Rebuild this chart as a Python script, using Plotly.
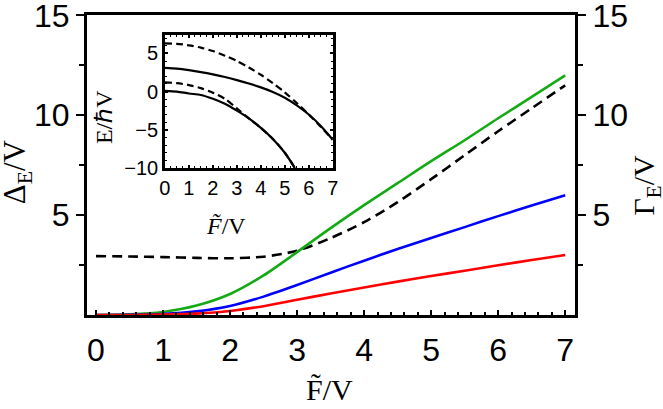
import plotly.graph_objects as go

# ---- main panel data ----
F = [0, 0.5, 1, 1.5, 2, 2.5, 3, 3.5, 4, 4.5, 5, 5.5, 6, 6.5, 7]
green = [0, 0.03, 0.15, 0.47, 1.05, 1.98, 3.15, 4.35, 5.5, 6.6, 7.7, 8.75, 9.85, 10.92, 12.0]
blue = [0, 0.01, 0.05, 0.18, 0.45, 0.92, 1.5, 2.12, 2.72, 3.3, 3.85, 4.4, 4.95, 5.48, 6.0]
red = [0, 0, 0.02, 0.07, 0.2, 0.44, 0.76, 1.08, 1.38, 1.67, 1.95, 2.22, 2.49, 2.75, 3.0]
gamma = [2.95, 2.93, 2.9, 2.86, 2.84, 2.92, 3.22, 3.85, 4.65, 5.65, 6.8, 8.0, 9.2, 10.35, 11.5]

# ---- inset data ----
Fi = [0, 0.5, 1, 1.5, 2, 2.5, 3, 3.5, 4, 4.5, 5, 5.5, 6, 6.5, 7]
up_dash = [6.3, 6.25, 6.05, 5.75, 5.3, 4.7, 4.0, 3.15, 2.2, 1.1, -0.1, -1.5, -3.0, -4.6, -6.3]
up_solid = [3.1, 3.0, 2.8, 2.55, 2.25, 1.9, 1.5, 1.05, 0.55, -0.05, -0.8, -1.8, -3.0, -4.5, -6.3]
Fl = [0, 0.5, 1, 1.5, 2, 2.5, 3, 3.5, 4, 4.5, 5, 5.42]
lo_solid = [0.1, 0.0, -0.25, -0.45, -0.95, -1.6, -2.5, -3.5, -4.75, -6.2, -8.0, -10.0]
lo_dash = [1.2, 1.1, 0.85, 0.45, -0.15, -0.95, -2.2, -3.5, -4.75, -6.2, -8.0, -10.0]

main_ticks = [5, 10, 15]
inset_yticks = [-10, -5, 0, 5]
inset_xticks = [0, 1, 2, 3, 4, 5, 6, 7]

SANS = "Liberation Sans"
SERIF = "Liberation Serif"

fig = go.Figure()
lw = 2.6
fig.add_trace(go.Scatter(x=F, y=gamma, mode="lines", line=dict(color="black", width=lw, dash="10px,6px", shape="spline", smoothing=0.8)))
fig.add_trace(go.Scatter(x=F, y=green, mode="lines", line=dict(color="rgb(20,170,20)", width=lw, shape="spline", smoothing=0.8)))
fig.add_trace(go.Scatter(x=F, y=blue, mode="lines", line=dict(color="rgb(0,0,255)", width=lw, shape="spline", smoothing=0.8)))
fig.add_trace(go.Scatter(x=F, y=red, mode="lines", line=dict(color="rgb(255,0,0)", width=lw, shape="spline", smoothing=0.8)))
# dummy for right axis
fig.add_trace(go.Scatter(x=[None], y=[None], yaxis="y2", showlegend=False))

ilw = 2.2
for xs, ys, d in [(Fi, up_dash, "7px,4px"), (Fi, up_solid, "solid"), (Fl, lo_dash, "7px,4px"), (Fl, lo_solid, "solid")]:
    fig.add_trace(go.Scatter(x=xs, y=ys, mode="lines", xaxis="x2", yaxis="y3",
                             line=dict(color="black", width=ilw, dash=d, shape="spline", smoothing=0.8)))

yr = [0, 15.02]
fig.update_layout(
    width=663, height=409,
    margin=dict(l=87, r=87.5, t=15, b=94, autoexpand=False),
    paper_bgcolor="white", plot_bgcolor="white",
    showlegend=False,
    xaxis=dict(range=[-0.134, 7.146], tickvals=list(range(8)), ticks="inside", ticklen=5, tickwidth=2,
               tickcolor="black", minor=dict(dtick=0.2, ticks="inside", ticklen=3, tickwidth=1.5, tickcolor="black"),
               showline=True, linecolor="black", linewidth=3, mirror=True, showgrid=False, zeroline=False,
               automargin=False,
               tickfont=dict(family=SANS, size=32, color="black"), ticklabelstandoff=5),
    yaxis=dict(range=yr, tickvals=main_ticks, ticks="outside", ticklen=8, tickwidth=2, tickcolor="black",
               minor=dict(tickvals=[2.5, 7.5, 12.5], ticks="outside", ticklen=5, tickwidth=2, tickcolor="black"),
               showline=True, linecolor="black", linewidth=3, showgrid=False, zeroline=False,
               ticklabeloverflow="allow", automargin=False,
               tickfont=dict(family=SANS, size=32, color="black")),
    yaxis2=dict(range=yr, overlaying="y", side="right", tickvals=main_ticks, ticks="outside", ticklen=8,
                tickwidth=2, tickcolor="black",
                minor=dict(tickvals=[2.5, 7.5, 12.5], ticks="outside", ticklen=5, tickwidth=2, tickcolor="black"),
                showline=True, linecolor="black", linewidth=3, showgrid=False, zeroline=False,
                ticklabeloverflow="allow", automargin=False,
                tickfont=dict(family=SANS, size=32, color="black")),
    xaxis2=dict(domain=[0.1597, 0.5036], anchor="y3", range=[0, 7], tickvals=inset_xticks, ticks="inside",
                ticklen=3, tickwidth=1.5, tickcolor="black",
                minor=dict(dtick=0.25, ticks="inside", ticklen=2, tickwidth=1.2, tickcolor="black"),
                showline=True, linecolor="black", linewidth=2.5, mirror="allticks", showgrid=False, zeroline=False,
                automargin=False,
                tickfont=dict(family=SANS, size=20, color="black")),
    yaxis3=dict(domain=[0.49, 0.9333], anchor="x2", range=[-10, 7.4], tickvals=inset_yticks, ticks="inside",
                ticklen=3, tickwidth=1.5, tickcolor="black",
                minor=dict(dtick=1, ticks="inside", ticklen=2, tickwidth=1.2, tickcolor="black"),
                showline=True, linecolor="black", linewidth=2.5, mirror="allticks", showgrid=False, zeroline=False,
                automargin=False,
                tickfont=dict(family=SANS, size=20, color="black")),
)

ann = [
    dict(text="Δ<sub>E</sub>/V", x=-0.143, y=0.4767, textangle=-90, size=31),
    dict(text="Γ<sub>E</sub>/V", x=1.1464, y=0.433, textangle=-90, size=30),
    dict(text="F\u0303/V", x=0.4974, y=-0.2467, textangle=0, size=30),
    dict(text="E/\u210fV", x=0.035, y=0.66, textangle=-90, size=24),
    dict(text="<i>F\u0303</i>/V", x=0.2845, y=0.2967, textangle=0, size=24),
]
for a in ann:
    fig.add_annotation(text=a["text"], x=a["x"], y=a["y"], xref="paper", yref="paper", showarrow=False,
                       textangle=a["textangle"], xanchor="center", yanchor="middle",
                       font=dict(family=SERIF, size=a["size"], color="black"))

fig.write_html("out.html")
